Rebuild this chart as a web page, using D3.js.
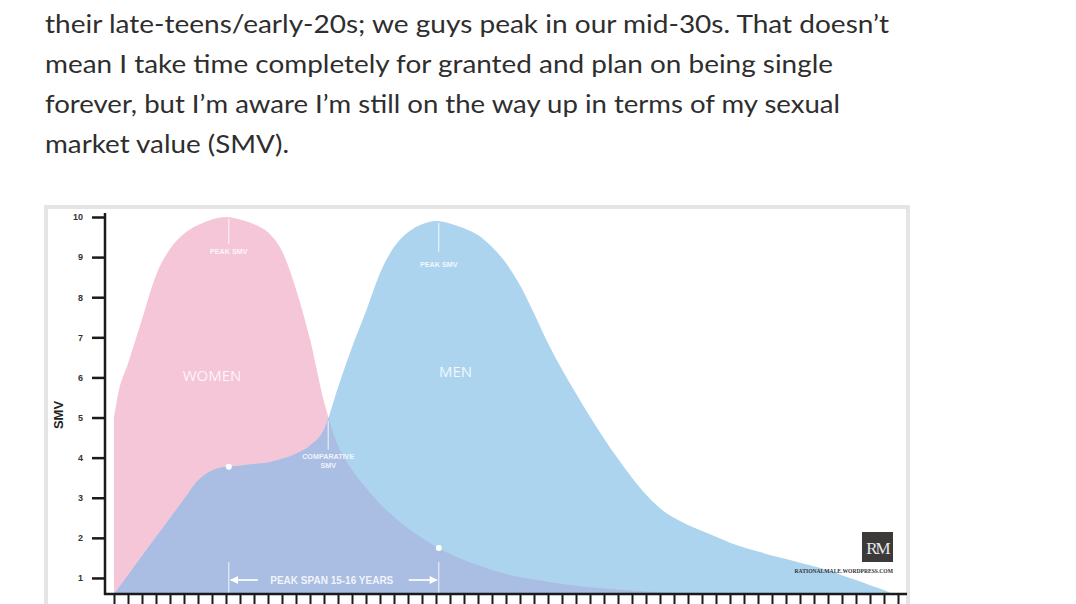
<!DOCTYPE html>
<html>
<head>
<meta charset="utf-8">
<script src="https://cdn.jsdelivr.net/npm/d3@7"></script>
<style>
  html, body { margin: 0; padding: 0; background: #ffffff; overflow: hidden; }
  svg { display: block; }
</style>
</head>
<body>
<svg id="chart" width="1076" height="604"></svg>
<script>
// ---- DATA ----
const paragraphLines = [
  "their late-teens/early-20s; we guys peak in our mid-30s. That doesn\u2019t",
  "mean I take time completely for granted and plan on being single",
  "forever, but I\u2019m aware I\u2019m still on the way up in terms of my sexual",
  "market value (SMV)."
];
const paragraphWidths = [844, 788, 795, 244];

const womenAges = [12, 12.3, 13, 14, 15, 16, 17, 18, 19, 20, 21, 22, 23, 24, 25, 26, 27, 28, 29, 30, 31, 32, 33, 34, 35, 36, 37, 38, 39, 40, 42, 44, 46, 48, 50, 52, 53];
const womenSMV  = [5.0, 5.6, 6.35, 7.45, 8.55, 9.2, 9.58, 9.8, 9.94, 10.0, 9.94, 9.82, 9.62, 9.15, 8.2, 6.95, 5.4, 4.3, 3.7, 3.25, 2.85, 2.52, 2.24, 2.0, 1.78, 1.6, 1.45, 1.32, 1.2, 1.1, 0.96, 0.85, 0.77, 0.71, 0.66, 0.62, 0.6];

const menAges = [12, 13, 14, 15, 16, 17, 18, 19, 20, 21, 22, 23, 24, 25, 26, 27, 28, 29, 30, 31, 32, 33, 34, 35, 36, 37, 38, 39, 40, 41, 42, 43, 44, 45, 46, 47, 48, 49, 50, 51, 52, 53, 54, 55, 56, 57, 58, 59, 60, 61, 62, 63, 64, 65, 66, 67, 67.6];
const menSMV  = [0.6, 1.07, 1.55, 2.02, 2.49, 2.96, 3.43, 3.68, 3.77, 3.8, 3.84, 3.88, 3.97, 4.1, 4.3, 4.7, 5.75, 6.75, 7.65, 8.6, 9.25, 9.62, 9.82, 9.9, 9.84, 9.72, 9.55, 9.25, 8.85, 8.3, 7.6, 6.85, 6.2, 5.6, 5.02, 4.48, 3.97, 3.5, 3.08, 2.74, 2.5, 2.32, 2.17, 2.03, 1.88, 1.76, 1.66, 1.56, 1.47, 1.38, 1.29, 1.19, 1.07, 0.95, 0.82, 0.7, 0.6];

const yTickValues = [1, 2, 3, 4, 5, 6, 7, 8, 9, 10];
const xTickAges = [12,13,14,15,16,17,18,19,20,21,22,23,24,25,26,27,28,29,30,31,32,33,34,35,36,37,38,39,40,41,42,43,44,45,46,47,48,49,50,51,52,53,54,55,56,57,58,59,60,61,62,63,64,65,66,67,68];

const peakAges = [20.2, 35.2];          // women peak, men peak
const peakSMV  = [10, 9.9];
const peakLabels = ["PEAK SMV", "PEAK SMV"];
const markerAges = [20.2, 35.2];        // other sex's value at each peak
const markerSMV  = [3.77, 1.75];
const comparativeAge = 27.3;
const comparativeSMV = 4.92;
const seriesLabels = ["WOMEN", "MEN"];
const seriesLabelAges = [19, 36.4];
const seriesLabelSMV = [5.9, 6.0];
const spanLabel = "PEAK SPAN 15-16 YEARS";
const yTitle = "SMV";

// ---- LAYOUT ----
const svg = d3.select("#chart");

// paragraph text
svg.selectAll("text.para")
  .data(paragraphLines)
  .join("text")
  .attr("class", "para")
  .attr("x", 45)
  .attr("y", (d, i) => 33 + i * 40)
  .attr("font-family", "Lato, 'Open Sans', sans-serif")
  .attr("font-size", 25.5)
  .attr("fill", "#2e2e2e")
  .attr("textLength", (d, i) => paragraphWidths[i])
  .attr("lengthAdjust", "spacingAndGlyphs")
  .text(d => d);

// image frame
svg.append("rect")
  .attr("x", 46).attr("y", 207)
  .attr("width", 862).attr("height", 420)
  .attr("fill", "#ffffff")
  .attr("stroke", "#e5e5e5")
  .attr("stroke-width", 4);

const x = d3.scaleLinear().domain([12, 68]).range([114, 898]);
const y = d3.scaleLinear().domain([0.6, 10]).range([594, 217]);

const women = womenAges.map((a, i) => [a, womenSMV[i]]);
const men = menAges.map((a, i) => [a, menSMV[i]]);

const area = d3.area()
  .x(d => x(d[0]))
  .y0(y(0.6))
  .y1(d => y(d[1]))
  .curve(d3.curveMonotoneX);

const pink = "#f5c6d7";
const blue = "#add4ee";
const lav  = "#aabde2";

svg.append("clipPath").attr("id", "womenClip")
  .append("path").attr("d", area(women));

svg.append("path").attr("d", area(women)).attr("fill", pink);
svg.append("path").attr("d", area(men)).attr("fill", blue);
svg.append("path").attr("d", area(men)).attr("fill", lav).attr("clip-path", "url(#womenClip)");

// annotations (white)
const annLine = (x1, y1, x2, y2) => svg.append("line")
  .attr("x1", x1).attr("y1", y1).attr("x2", x2).attr("y2", y2)
  .attr("stroke", "#ffffff").attr("stroke-opacity", 0.85).attr("stroke-width", 1);

const smallText = (tx, ty, t, size) => svg.append("text")
  .attr("x", tx).attr("y", ty)
  .attr("text-anchor", "middle")
  .attr("font-family", "Arial, 'Liberation Sans', sans-serif")
  .attr("font-weight", "bold")
  .attr("font-size", size)
  .attr("fill", "#ffffff").attr("fill-opacity", 0.85)
  .text(t);

peakAges.forEach((a, i) => {
  annLine(x(a), y(peakSMV[i]) + 2, x(a), y(peakSMV[i]) + (i === 0 ? 27 : 31));
  smallText(x(a), y(peakSMV[i]) + (i === 0 ? 37 : 46), peakLabels[i], 7.2);
});

// comparative SMV
annLine(x(comparativeAge), y(comparativeSMV), x(comparativeAge), y(comparativeSMV) + 29);
["COMPARATIVE", "SMV"].forEach((t, i) => {
  smallText(x(comparativeAge), y(comparativeSMV) + 38 + i * 9, t, 7.2);
});

// series labels
seriesLabels.forEach((t, i) => {
  svg.append("text")
    .attr("x", x(seriesLabelAges[i])).attr("y", y(seriesLabelSMV[i]))
    .attr("text-anchor", "middle")
    .attr("font-family", "'Open Sans', Arial, sans-serif")
    .attr("font-size", 15)
    .attr("fill", "#ffffff").attr("fill-opacity", 0.85)
    .text(t);
});

// markers
markerAges.forEach((a, i) => {
  svg.append("circle")
    .attr("cx", x(a)).attr("cy", y(markerSMV[i])).attr("r", 3)
    .attr("fill", "#ffffff");
});

// peak span
const spanY = 580;
peakAges.forEach(a => annLine(x(a), 562, x(a), y(0.6) - 1));
const defs = svg.append("defs");
defs.append("marker").attr("id", "arr")
  .attr("viewBox", "0 0 10 10").attr("refX", 9).attr("refY", 5)
  .attr("markerWidth", 5).attr("markerHeight", 4).attr("orient", "auto")
  .append("path").attr("d", "M0,0 L10,5 L0,10 Z").attr("fill", "#ffffff");
svg.append("line")
  .attr("x1", x(peakAges[0]) + 29).attr("y1", spanY)
  .attr("x2", x(peakAges[0]) + 2).attr("y2", spanY)
  .attr("stroke", "#ffffff").attr("stroke-width", 2).attr("stroke-opacity", 0.85)
  .attr("marker-end", "url(#arr)");
svg.append("line")
  .attr("x1", x(peakAges[1]) - 30).attr("y1", spanY)
  .attr("x2", x(peakAges[1]) - 2).attr("y2", spanY)
  .attr("stroke", "#ffffff").attr("stroke-width", 2).attr("stroke-opacity", 0.85)
  .attr("marker-end", "url(#arr)");
smallText((x(peakAges[0]) + x(peakAges[1])) / 2 - 2, spanY + 3.5, spanLabel, 10);

// RM logo
svg.append("rect").attr("x", 862).attr("y", 532).attr("width", 31).attr("height", 30).attr("fill", "#3b3a39");
svg.append("text").attr("x", 877.5).attr("y", 554).attr("text-anchor", "middle")
  .attr("font-family", "'Liberation Serif', 'DejaVu Serif', serif")
  .attr("font-size", 17).attr("fill", "#e8e8e8").attr("letter-spacing", -2)
  .text("RM");
svg.append("text").attr("x", 893).attr("y", 573).attr("text-anchor", "end")
  .attr("font-family", "'Liberation Serif', serif").attr("font-weight", "bold")
  .attr("font-size", 5.6).attr("fill", "#333333")
  .text("RATIONALMALE.WORDPRESS.COM");

// axes
const yAxis = d3.axisLeft(y).tickValues(yTickValues).tickSize(13).tickPadding(9).tickSizeOuter(0);
const gy = svg.append("g").attr("transform", "translate(105,0)").call(yAxis);
gy.select(".domain").remove();
gy.selectAll(".tick line").attr("stroke", "#1a1a1a").attr("stroke-width", 2.5);
gy.selectAll(".tick text")
  .attr("font-family", "Arial, 'Liberation Sans', sans-serif")
  .attr("font-size", 9).attr("font-weight", "bold").attr("fill", "#333333");
svg.append("line").attr("x1", 105).attr("y1", 213).attr("x2", 105).attr("y2", y(0.6) + 1)
  .attr("stroke", "#1a1a1a").attr("stroke-width", 2.5);

const xAxis = d3.axisBottom(x).tickValues(xTickAges).tickSize(16).tickFormat("").tickSizeOuter(0);
const gx = svg.append("g").attr("transform", `translate(0,${y(0.6)})`).call(xAxis);
gx.select(".domain").remove();
gx.selectAll(".tick line").attr("stroke", "#1a1a1a").attr("stroke-width", 2);
svg.append("line").attr("x1", 104).attr("y1", y(0.6)).attr("x2", 907).attr("y2", y(0.6))
  .attr("stroke", "#1a1a1a").attr("stroke-width", 2.5);

svg.append("text")
  .attr("transform", "translate(63,415) rotate(-90)")
  .attr("text-anchor", "middle")
  .attr("font-family", "Arial, 'Liberation Sans', sans-serif")
  .attr("font-weight", "bold").attr("font-size", 13).attr("fill", "#222222")
  .text(yTitle);
</script>
</body>
</html>
